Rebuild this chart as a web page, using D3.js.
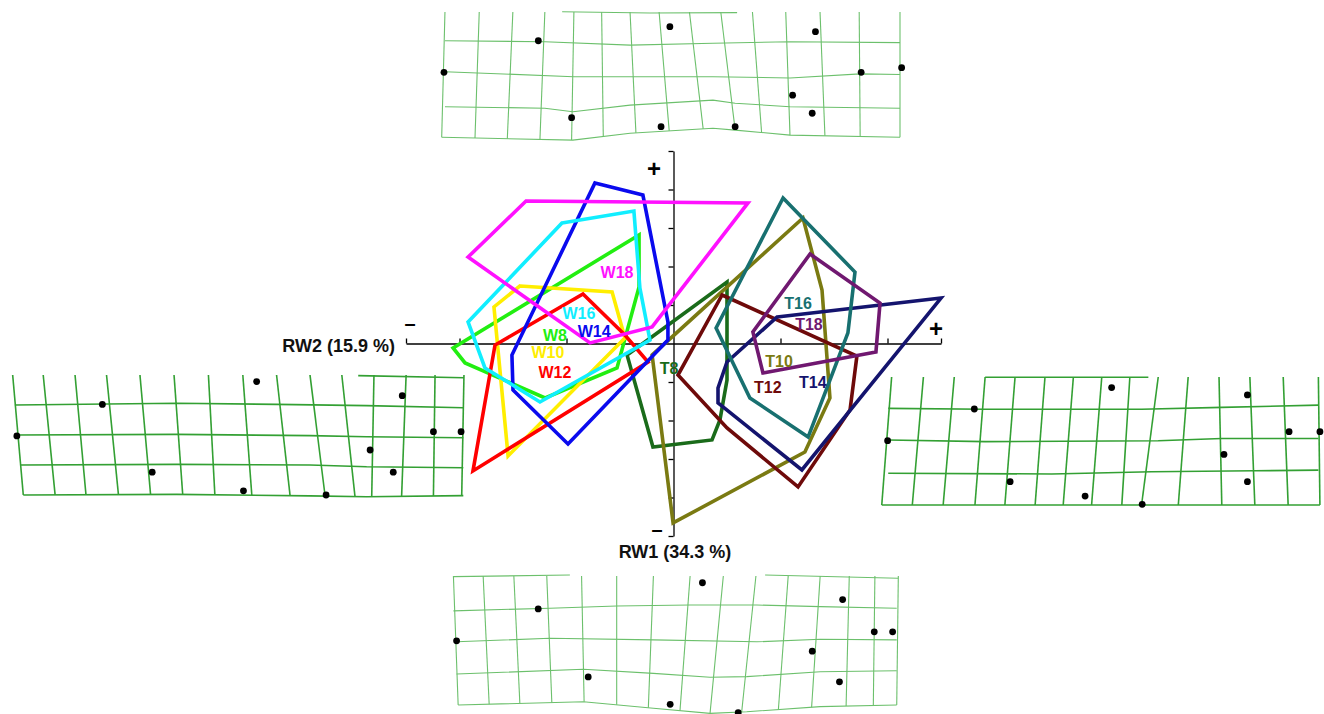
<!DOCTYPE html>
<html>
<head>
<meta charset="utf-8">
<script src="https://cdn.jsdelivr.net/npm/d3@7"></script>
<style>
  body { margin: 0; background: #fff; }
  text { font-family: Arial, "Liberation Sans", sans-serif; font-weight: bold; }
</style>
</head>
<body>
<svg id="chart" width="1324" height="714"></svg>
<script>
// ---------------- Relative-warp scores: convex hull of each group ----------------
const groups = ["T8", "T10", "T12", "T14", "T16", "T18", "W8", "W10", "W12", "W14", "W16", "W18"];

const hullW8  = [[-0.0161, 0.0564], [-0.0161, 0.0294], [-0.0264, -0.0127], [-0.0600, -0.0283], [-0.0974, -0.0101], [-0.1030, -0.0023]];
const hullW10 = [[-0.0717, 0.0299], [-0.0287, 0.0268], [-0.0227, 0.0029], [-0.0773, -0.0584], [-0.0839, 0.0190]];
const hullW12 = [[-0.0423, 0.0257], [-0.0227, 0.0044], [-0.0119, -0.0096], [-0.0937, -0.0662], [-0.0834, -0.0008]];
const hullW14 = [[-0.0367, 0.0834], [-0.0143, 0.0771], [-0.0026, 0.0112], [-0.0026, 0.0018], [-0.0493, -0.0522], [-0.0750, -0.0242], [-0.0755, -0.0060]];
const hullW16 = [[-0.0521, 0.0626], [-0.0185, 0.0688], [-0.0157, 0.0288], [-0.0110, 0.0018], [-0.0624, -0.0304], [-0.0881, -0.0127], [-0.0960, 0.0112]];
const hullW18 = [[-0.0689, 0.0740], [0.0348, 0.0730], [-0.0100, 0.0086], [-0.0390, 0.0003], [-0.0960, 0.0449]];
const hullT8  = [[0.0250, 0.0319], [0.0250, -0.0190], [0.0217, -0.0397], [0.0180, -0.0501], [-0.0096, -0.0538], [-0.0217, -0.0060]];
const hullT10 = [[0.0605, 0.0652], [0.0694, 0.0278], [0.0731, -0.0283], [0.0614, -0.0564], [-0.0002, -0.0932], [-0.0100, -0.0060]];
const hullT12 = [[0.0227, 0.0252], [0.0857, -0.0065], [0.0825, -0.0345], [0.0582, -0.0745], [0.0250, -0.0439], [0.0021, -0.0164]];
const hullT14 = [[0.0484, 0.0138], [0.1250, 0.0236], [0.0600, -0.0657], [0.0208, -0.0309], [0.0208, -0.0231], [0.0250, -0.0096]];
const hullT16 = [[0.0512, 0.0756], [0.0848, 0.0371], [0.0815, 0.0055], [0.0731, -0.0190], [0.0629, -0.0486], [0.0357, -0.0283], [0.0199, 0.0081]];
const hullT18 = [[0.0638, 0.0465], [0.0965, 0.0210], [0.0946, -0.0044], [0.0418, -0.0153], [0.0371, 0.0060]];

// axis tick values (no tick labels are printed)
const xTicks = [-0.125, -0.1, -0.05, 0.05, 0.1, 0.125];
const yTicks = [-0.1, -0.08, -0.06, -0.04, -0.02, 0.02, 0.04, 0.06, 0.08, 0.1];
const xAxisTitle = "RW2 (15.9 %)";
const yAxisTitle = "RW1 (34.3 %)";

// ---------------- Deformation grids (grid units: 14 columns x 4 rows) ----------------
// landmarks [u, v]
const topLandmarks = [[0.03, 1.93], [2.92, 0.92], [3.94, 3.38], [6.68, 3.67], [6.95, 0.47], [8.95, 3.67], [10.71, 2.66], [11.31, 3.24], [11.41, 0.63], [12.81, 1.93], [14.05, 1.78]];
const topColTop = [0.06, 1.11, 2.14, 3.12, 4.01, 4.86, 5.73, 6.62, 7.55, 8.51, 9.48, 10.50, 11.55, 12.75, 14.0];
const topColBot = [-0.04, 0.98, 1.97, 2.97, 3.94, 4.91, 5.91, 6.93, 7.97, 8.95, 9.76, 10.63, 11.70, 12.78, 14.0];
const topRows = [
  [[3.65, -0.01], [6.34, 0.03], [9.01, 0.02]],
  [[0.06, 0.92], [3.12, 0.95], [5.73, 1.06], [8.27, 1.00], [10.63, 0.95], [14.0, 0.98]],
  [[0.06, 1.91], [4.0, 2.07], [8.27, 2.07], [10.63, 2.11], [12.78, 1.98], [14.0, 2.0]],
  [[0.06, 3.03], [3.12, 3.08], [3.98, 3.19], [5.73, 2.98], [8.27, 2.82], [8.95, 2.92], [10.63, 3.03], [14.0, 3.08]],
  [[-0.04, 4.01], [3.98, 4.10], [5.73, 3.88], [8.27, 3.72], [8.95, 3.78], [10.63, 3.94], [14.0, 4.01]]
];

const bottomLandmarks = [[0.05, 2.01], [2.63, 1.02], [4.21, 3.13], [6.80, 3.98], [7.82, 0.21], [8.95, 4.24], [11.29, 2.33], [12.15, 3.28], [12.25, 0.73], [13.25, 1.73], [13.83, 1.73]];
const bottomColTop = [-0.05, 0.89, 1.86, 2.90, 4.00, 5.11, 6.27, 7.43, 8.48, 9.51, 10.53, 11.54, 12.46, 13.27, 14.01];
const bottomColBot = [0.10, 1.08, 2.05, 3.06, 4.08, 5.11, 6.11, 7.11, 8.06, 9.06, 10.22, 11.27, 12.36, 13.22, 13.96];
const bottomRows = [
  [[-0.05, 0.02], [3.63, -0.03]],
  [[9.80, -0.03], [14.01, 0.07]],
  [[-0.05, 1.08], [3.00, 1.00], [5.11, 0.93], [7.43, 0.90], [9.54, 0.90], [11.54, 0.95], [13.96, 1.00]],
  [[0.05, 2.04], [3.00, 1.93], [6.27, 1.98], [9.54, 2.04], [11.54, 1.96], [13.96, 1.98]],
  [[0.05, 3.04], [4.06, 2.89], [6.27, 3.02], [8.06, 3.14], [9.22, 3.12], [11.54, 2.97], [13.96, 2.94]],
  [[0.10, 4.00], [4.06, 3.90], [6.27, 4.10], [8.06, 4.26], [9.22, 4.21], [11.54, 4.05], [13.96, 4.00]]
];

const leftLandmarks = [[0.12, 2.03], [2.78, 0.98], [4.33, 3.24], [7.17, 3.86], [7.58, 0.22], [9.74, 4.00], [11.11, 2.50], [11.83, 3.24], [12.11, 0.69], [13.08, 1.89], [13.94, 1.89]];
const leftColTop = [-0.01, 0.94, 1.93, 2.91, 3.95, 5.01, 6.08, 7.15, 8.20, 9.24, 10.23, 11.23, 12.23, 13.13, 14.03];
const leftColBot = [0.32, 1.31, 2.27, 3.28, 4.28, 5.28, 6.28, 7.43, 8.62, 9.71, 10.64, 11.16, 12.09, 13.08, 13.96];
const leftRows = [
  [[10.74, 0.02], [14.03, 0.09]],
  [[0.06, 1.00], [5.09, 0.94], [8.20, 0.98], [11.0, 1.02], [14.01, 1.09]],
  [[0.06, 2.00], [5.09, 1.98], [9.24, 2.02], [11.0, 2.06], [14.01, 2.09]],
  [[0.22, 3.00], [5.09, 2.98], [9.24, 3.00], [11.0, 3.06], [14.01, 3.09]],
  [[0.32, 4.00], [5.09, 3.98], [9.24, 4.03], [11.0, 4.06], [14.01, 4.02]]
];

const rightLandmarks = [[0.02, 1.99], [2.83, 1.00], [3.99, 3.27], [6.42, 3.72], [7.28, 0.33], [8.27, 3.98], [10.92, 2.42], [11.68, 3.27], [11.68, 0.56], [13.03, 1.71], [14.03, 1.71]];
const rightColTop = [0.15, 1.18, 2.18, 3.18, 4.15, 5.12, 6.04, 6.96, 7.87, 8.79, 9.76, 10.76, 11.76, 12.84, 13.98];
const rightColBot = [-0.17, 0.82, 1.82, 2.85, 3.82, 4.80, 5.71, 6.63, 7.61, 8.25, 9.44, 10.85, 11.92, 13.00, 14.03];
const rightRows = [
  [[3.18, 0.01], [8.47, 0.01]],
  [[0.04, 0.98], [3.18, 1.01], [8.25, 1.01], [10.85, 0.95], [13.98, 0.88]],
  [[0.04, 1.97], [3.18, 2.02], [8.79, 1.99], [10.85, 1.92], [13.98, 1.92]],
  [[0.04, 3.01], [5.34, 3.03], [8.58, 2.96], [11.92, 2.93], [13.98, 2.91]],
  [[-0.17, 4.00], [8.25, 4.00], [10.85, 4.00], [14.03, 4.00]]
];

// ---------------- Layout & styles ----------------
const colours = {
  W8: "#22ee11", W10: "#ffee00", W12: "#ff0000", W14: "#0a0aee", W16: "#11eeff", W18: "#ff11ff",
  T8: "#1a6b1a", T10: "#7a7a12", T12: "#6e0a0a", T14: "#14146e", T16: "#187070", T18: "#701870"
};
const labelAt = {
  W18: [-0.0264, 0.0371], W16: [-0.0442, 0.0158], W14: [-0.0371, 0.0060], W8: [-0.0554, 0.0039],
  W10: [-0.0587, -0.0049], W12: [-0.0554, -0.0153], T8: [-0.0021, -0.0132], T10: [0.0493, -0.0091],
  T12: [0.0441, -0.0231], T14: [0.0651, -0.0205], T16: [0.0582, 0.0210], T18: [0.0633, 0.0101]
};
const hulls = {
  W8: hullW8, W10: hullW10, W12: hullW12, W14: hullW14, W16: hullW16, W18: hullW18,
  T8: hullT8, T10: hullT10, T12: hullT12, T14: hullT14, T16: hullT16, T18: hullT18
};

const svg = d3.select("#chart");
const x = d3.scaleLinear().domain([-0.125, 0.125]).range([406, 941]);
const y = d3.scaleLinear().domain([-0.1, 0.1]).range([536, 151]);

// ---- axes crossing at the origin
const gx = svg.append("g").attr("transform", `translate(0,${y(0)})`)
  .call(d3.axisTop(x).tickValues(xTicks).tickSize(5).tickSizeOuter(0).tickFormat(""));
const gy = svg.append("g").attr("transform", `translate(${x(0)},0)`)
  .call(d3.axisLeft(y).tickValues(yTicks).tickSize(5).tickSizeOuter(0).tickFormat(""));
[gx, gy].forEach(g => {
  g.select(".domain").attr("stroke", "#000").attr("stroke-width", 1.3);
  g.selectAll(".tick line").attr("stroke", "#000").attr("stroke-width", 1.3);
});

// ---- hull outlines
const line = d3.line().x(d => x(d[0])).y(d => y(d[1])).curve(d3.curveLinearClosed);
svg.append("g").selectAll("path").data(groups).join("path")
  .attr("d", g => line(hulls[g]))
  .attr("fill", "none")
  .attr("stroke", g => colours[g])
  .attr("stroke-width", 3.6)
  .attr("stroke-linejoin", "miter");

// ---- group labels
svg.append("g").selectAll("text").data(groups).join("text")
  .attr("x", g => x(labelAt[g][0]))
  .attr("y", g => y(labelAt[g][1]))
  .attr("text-anchor", "middle")
  .attr("dominant-baseline", "central")
  .attr("font-size", 16)
  .attr("fill", g => colours[g])
  .text(g => g);

// ---- axis signs and titles
const signs = [
  { t: "+", px: 654, py: 168, fs: 24 }, { t: "+", px: 936, py: 328, fs: 24 },
  { t: "\u2013", px: 410, py: 323, fs: 20 }, { t: "\u2013", px: 657, py: 529, fs: 20 }
];
svg.append("g").selectAll("text").data(signs).join("text")
  .attr("x", d => d.px).attr("y", d => d.py)
  .attr("text-anchor", "middle").attr("dominant-baseline", "central")
  .attr("font-size", d => d.fs).attr("fill", "#000").text(d => d.t);

svg.append("text").attr("x", 395).attr("y", 352).attr("text-anchor", "end")
  .attr("font-size", 18).attr("fill", "#111").text(xAxisTitle);
svg.append("text").attr("x", 675).attr("y", 558).attr("text-anchor", "middle")
  .attr("font-size", 18).attr("fill", "#111").text(yAxisTitle);

// ---- deformation grids
function vAt(poly, u) {
  if (u <= poly[0][0]) return poly[0][1];
  for (let i = 1; i < poly.length; i++) {
    if (u <= poly[i][0]) {
      const a = poly[i - 1], b = poly[i];
      return a[1] + (b[1] - a[1]) * (u - a[0]) / (b[0] - a[0]);
    }
  }
  return poly[poly.length - 1][1];
}

function drawGrid(box, colTop, colBot, rows, landmarks, stroke, width) {
  const gxs = d3.scaleLinear().domain([0, 14]).range([box.x0, box.x1]);
  const gys = d3.scaleLinear().domain([0, 4]).range([box.y0, box.y1]);
  const g = svg.append("g");
  const pl = d3.line().x(d => gxs(d[0])).y(d => gys(d[1]));
  const bottom = rows[rows.length - 1];
  const verticals = colTop.map((u, i) => [[u, 0], [colBot[i], vAt(bottom, colBot[i])]]);
  g.selectAll("path.v").data(verticals).join("path").attr("class", "v")
    .attr("d", pl).attr("fill", "none").attr("stroke", stroke).attr("stroke-width", width);
  g.selectAll("path.h").data(rows).join("path").attr("class", "h")
    .attr("d", pl).attr("fill", "none").attr("stroke", stroke).attr("stroke-width", width);
  g.selectAll("circle").data(landmarks).join("circle")
    .attr("cx", d => gxs(d[0])).attr("cy", d => gys(d[1]))
    .attr("r", 3.4).attr("fill", "#000");
}

drawGrid({ x0: 443, x1: 900, y0: 12, y1: 137 }, topColTop, topColBot, topRows, topLandmarks, "#6cc06c", 1.1);
drawGrid({ x0: 455, x1: 898, y0: 576, y1: 705 }, bottomColTop, bottomColBot, bottomRows, bottomLandmarks, "#6cc06c", 1.1);
drawGrid({ x0: 13, x1: 463, y0: 375, y1: 495 }, leftColTop, leftColBot, leftRows, leftLandmarks, "#33a033", 1.6);
drawGrid({ x0: 887, x1: 1319, y0: 377, y1: 505 }, rightColTop, rightColBot, rightRows, rightLandmarks, "#33a033", 1.6);
</script>
</body>
</html>
